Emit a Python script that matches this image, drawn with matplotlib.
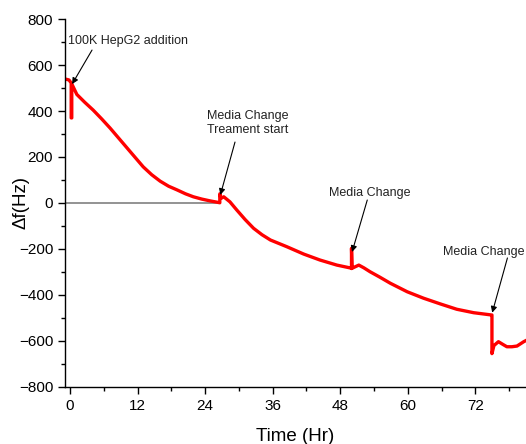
import numpy as np
import matplotlib
matplotlib.use('Agg')
import matplotlib.pyplot as plt
from matplotlib.ticker import MultipleLocator

plt.rcParams['font.family'] = ['Liberation Sans', 'DejaVu Sans']

# frequency shift trace (time in hours, df in Hz)
time_hr = [-0.7, -0.2, 0.2, 0.2, 0.3, 0.3, 1.2, 2.6, 4.1, 5.6, 7.1, 8.6, 10.1, 11.6,
           13.0, 14.5, 16.0, 17.5, 19.0, 20.5, 21.9, 23.4, 24.9, 26.0, 26.6,
           26.6, 26.8, 27.3, 28.4, 29.6, 31.1, 32.6, 34.1, 35.6, 38.5, 41.5, 44.4,
           47.4, 49.9, 50.0, 50.0, 50.1, 50.6, 51.3, 52.2, 53.3, 55.0, 56.9, 59.9,
           62.8, 65.8, 68.7, 71.7, 74.9, 74.95, 74.95, 75.3, 76.1, 76.9, 77.6, 78.5,
           79.4, 80.6, 81.0]
df_hz = [538, 535, 522, 370, 370, 518, 472, 438, 404, 366, 326, 283, 240, 197,
         157, 123, 95, 73, 57, 40, 27, 17, 9, 4, 1,
         40, 20, 27, 5, -30, -72, -110, -138, -161, -190, -222, -248,
         -270, -283, -285, -197, -284, -278, -270, -282, -299, -322, -349, -386,
         -414, -439, -462, -477, -487, -487, -655, -620, -603, -615, -625, -625,
         -622, -603, -598]

zero_line_t = [-0.9, 26.5]
zero_line_y = [0, 0]

x_ticks = [0, 12, 24, 36, 48, 60, 72]
y_ticks = [-800, -600, -400, -200, 0, 200, 400, 600, 800]

# (label, text pos, arrow tail, arrow tip, alignment)
notes = [
    ('100K HepG2 addition', (-0.4, 704), (3.9, 665), (0.36, 517), 'left'),
    ('Media Change\nTreament start', (31.5, 348), (29.3, 265), (26.7, 35), 'center'),
    ('Media Change', (53.2, 43), (52.8, 13), (50.1, -213), 'center'),
    ('Media Change', (66.3, -213), (77.7, -239), (75.0, -477), 'left'),
]

fig = plt.figure(figsize=(5.26, 4.44), dpi=100)
ax = fig.add_axes([0.1236, 0.1284, 0.8764, 0.8288])

ax.plot(zero_line_t, zero_line_y, color='#808080', lw=1.2)
ax.plot(time_hr, df_hz, color='#ff0000', lw=2.4, solid_joinstyle='round')

for label, txt, tail, tip, ha in notes:
    ax.text(txt[0], txt[1], label, ha=ha, va='center', fontsize=9,
            color='#222222', linespacing=1.2, clip_on=False)
    ax.annotate('', xy=tip, xytext=tail,
                arrowprops=dict(arrowstyle='-|>', color='black', lw=0.8,
                                mutation_scale=9, shrinkA=0, shrinkB=0),
                annotation_clip=False)

ax.set_xlim(-0.9, 81)
ax.set_ylim(-800, 800)
ax.set_xticks(x_ticks)
ax.set_yticks(y_ticks)
ax.xaxis.set_minor_locator(MultipleLocator(6))
ax.yaxis.set_minor_locator(MultipleLocator(100))
ax.tick_params(which='major', direction='out', length=5, width=1, labelsize=11)
ax.tick_params(which='minor', direction='out', length=3, width=1)

for s in ['top', 'right']:
    ax.spines[s].set_visible(False)
for s in ['left', 'bottom']:
    ax.spines[s].set_linewidth(1)

ax.set_xlabel('Time (Hr)', fontsize=13.5, labelpad=11)
ax.set_ylabel('\u0394f(Hz)', fontsize=13.5, labelpad=-8)

fig.savefig('out.png', dpi=100)
